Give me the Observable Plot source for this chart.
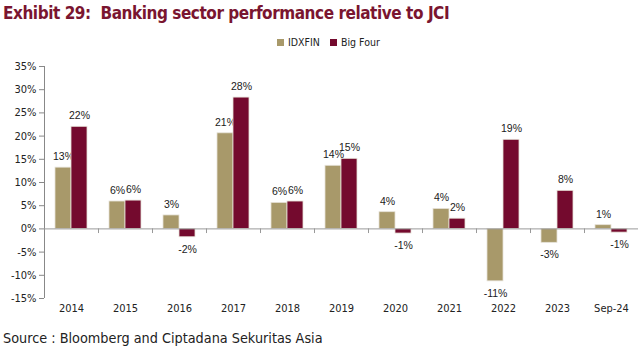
<!DOCTYPE html>
<html>
<head>
<meta charset="utf-8">
<script src="https://cdn.jsdelivr.net/npm/d3@7"></script>
<script src="https://cdn.jsdelivr.net/npm/@observablehq/plot@0.6"></script>
<style>
  html, body { margin: 0; padding: 0; background: #fff; }
  #wrap { position: relative; width: 642px; height: 346px; overflow: hidden; font-family: "DejaVu Sans Condensed", "Liberation Sans Narrow", "Liberation Sans", sans-serif; }
  #title { position: absolute; left: 3px; top: 3px; font-size: 17px; font-weight: bold; color: #7a1530; white-space: pre; letter-spacing: -0.45px; }
  .legitem { position: absolute; top: 36px; font-size: 10.5px; color: #222; display: flex; align-items: center; white-space: pre; }
  .legitem .sw { display: inline-block; width: 7px; height: 7px; margin-right: 4px; }
  #chart { position: absolute; left: 0; top: 52px; }
  #source { position: absolute; left: 3px; top: 330px; font-size: 14.3px; color: #222; white-space: pre; }
</style>
</head>
<body>
<div id="wrap">
  <div id="title">Exhibit 29:  Banking sector performance relative to JCI</div>
  <div id="chart"></div>
  <div id="source">Source : Bloomberg and Ciptadana Sekuritas Asia</div>
</div>
<script>
const categories = ["2014", "2015", "2016", "2017", "2018", "2019", "2020", "2021", "2022", "2023", "Sep-24"];
const idxfin   = [13.2, 5.9, 2.9, 20.6, 5.6, 13.6, 3.6, 4.3, -11.3, -3.0, 0.8];
const bigFour  = [22.0, 6.1, -1.8, 28.3, 5.9, 15.1, -1.0, 2.2, 19.2, 8.2, -0.8];
const seriesNames = ["IDXFIN", "Big Four"];
const seriesColors = ["#a8996a", "#740a2e"];
const yTicks = [-15, -10, -5, 0, 5, 10, 15, 20, 25, 30, 35];

const rows = [];
categories.forEach((c, i) => {
  rows.push({cat: c, series: seriesNames[0], value: idxfin[i]});
  rows.push({cat: c, series: seriesNames[1], value: bigFour[i]});
});

// legend
const wrap = document.getElementById("wrap");
const legX = [277, 330];
seriesNames.forEach((s, i) => {
  const it = document.createElement("div");
  it.className = "legitem";
  it.style.left = legX[i] + "px";
  it.innerHTML = `<span class="sw" style="background:${seriesColors[i]}"></span><span>${s}</span>`;
  wrap.appendChild(it);
});

const font = '"DejaVu Sans Condensed", "Liberation Sans Narrow", "Liberation Sans", sans-serif';
const bandW = 54;
const barW = 16;
const outer = (bandW - 2 * barW) / 2;

const marks = [];
seriesNames.forEach((s, k) => {
  const d = rows.filter(r => r.series === s);
  marks.push(Plot.barY(d, {
    x: "cat", y: "value",
    fill: seriesColors[k],
    stroke: "#e6e2d8", strokeWidth: 0.8,
    insetLeft: k === 0 ? outer : outer + barW,
    insetRight: k === 0 ? outer + barW : outer
  }));
  const dx = k === 0 ? -barW / 2 : barW / 2;
  marks.push(Plot.text(d.filter(r => r.value >= 0), {
    x: "cat", y: "value", text: r => Math.round(r.value) + "%",
    dx, dy: -11, fontSize: 10.5, fill: "#1a1a1a", fontFamily: '"Liberation Sans", Arial, sans-serif'
  }));
  marks.push(Plot.text(d.filter(r => r.value < 0), {
    x: "cat", y: "value", text: r => Math.round(r.value) + "%",
    dx, dy: 12, fontSize: 10.5, fill: "#1a1a1a", fontFamily: '"Liberation Sans", Arial, sans-serif'
  }));
});

const plot = Plot.plot({
  width: 642,
  height: 270,
  marginLeft: 44,
  marginRight: 4,
  marginTop: 14,
  marginBottom: 24,
  style: { fontFamily: font, fontSize: "11px", color: "#222", background: "transparent" },
  x: { domain: categories, padding: 0, label: null },
  y: { domain: [-15, 35], label: null },
  marks: [
    Plot.axisY({ ticks: yTicks, tickFormat: d => d + "%", tickSize: 5, tickPadding: 3, stroke: "#888", fontSize: 11 }),
    Plot.ruleX([categories[0]], { x: d => d, y1: -15, y2: 35, dx: -bandW / 2, stroke: "#888" }),
    Plot.axisX({ tickSize: 0, tickPadding: 6, fontSize: 11 }),
    ...marks,
    Plot.ruleY([0], { stroke: "#999" }),
    Plot.ruleX(categories.slice(1), { x: d => d, y1: 0, y2: -1, dx: -bandW / 2, stroke: "#999" })
  ]
});
document.getElementById("chart").appendChild(plot);
</script>
</body>
</html>
